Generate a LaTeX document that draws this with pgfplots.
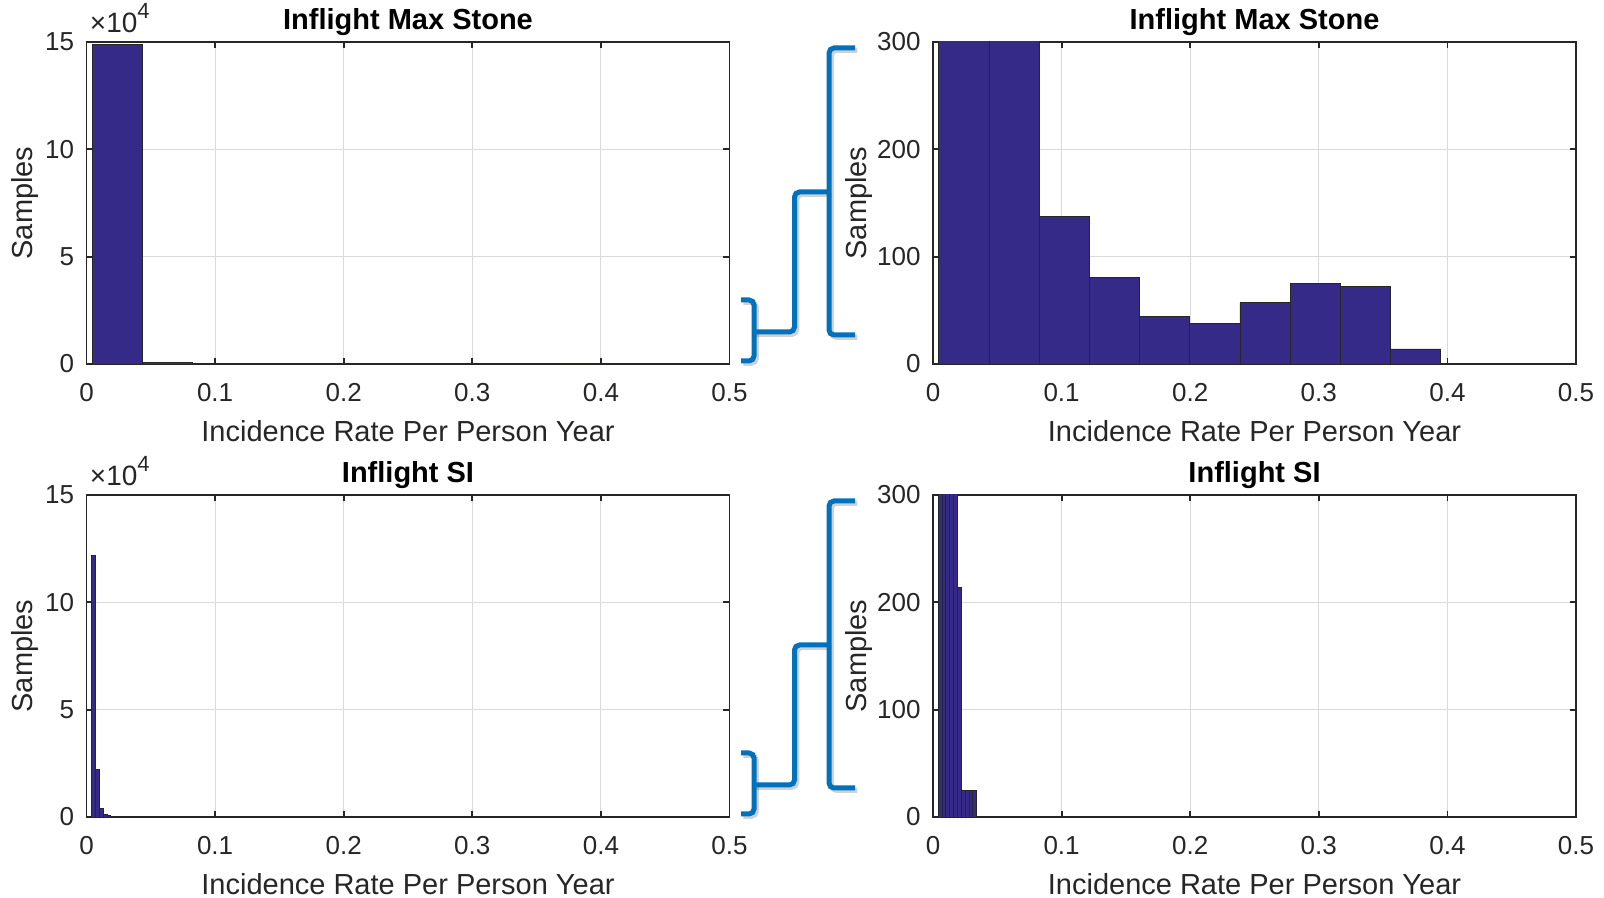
\documentclass[border=0pt]{standalone}
\usepackage{fontspec}
\setmainfont{Liberation Sans}
\usepackage{pgfplots}
\pgfplotsset{compat=1.18}

\definecolor{barfill}{RGB}{53,42,135}
\definecolor{axgray}{RGB}{38,38,38}
\definecolor{gridgray}{RGB}{218,218,218}
\definecolor{bracecol}{RGB}{0,114,189}

% Histogram bins: left edge, count (last row closes the final bin)
\pgfplotstableread{
x       y
0.0044  149060
0.0435  560
0.0825  137
0.1216  81
0.1606  44
0.1997  38
0.2387  57
0.2778  75
0.3168  72
0.3559  14
0.3949  14
}\stonebins

\pgfplotstableread{
x       y
0.0040  121700
0.0070  22350
0.0100  4150
0.0130  1300
0.0160  500
0.0190  214
0.0220  25
0.0250  25
0.0280  25
0.0310  25
0.0340  25
}\sibins

\pgfplotsset{
  every axis title shift=0pt,
  hist/.style={
    width=321.5pt, height=161pt, scale only axis,
    xmin=0, xmax=0.5,
    xtick={0,0.1,0.2,0.3,0.4,0.5},
    xticklabels={0,0.1,0.2,0.3,0.4,0.5},
    scaled x ticks=false, scaled y ticks=false,
    tick align=inside,
    major tick length=3.2pt,
    grid=major,
    major grid style={gridgray, line width=0.5pt},
    axis line style={axgray, line width=0.9pt},
    every tick/.style={axgray, line width=0.9pt},
    tick label style={font=\fontsize{13}{15}\selectfont, text=axgray},
    xticklabel style={anchor=center, yshift=-14.5pt},
    yticklabel style={anchor=east, inner sep=0pt, xshift=-6pt},
    xlabel={Incidence Rate Per Person Year},
    ylabel={Samples},
    label style={font=\fontsize{14.5}{17}\selectfont, text=axgray},
    xlabel style={at={([yshift=-33.5pt]axis description cs:0.5,0)}, anchor=center},
    title style={font=\bfseries\fontsize{14.5}{17}\selectfont,
      at={([yshift=9.8pt]axis description cs:0.5,1)}, anchor=center},
    axis background/.style={fill=white},
  },
  full/.style={
    ymin=0, ymax=150000,
    ytick={0,50000,100000,150000},
    yticklabels={0,5,10,15},
    ylabel style={at={([xshift=-30.5pt]axis description cs:0,0.5)}, anchor=center},
    % exponent of the y tick labels, above the top-left corner
    extra description/.code={
      \node[anchor=base west, inner sep=0pt, text=axgray, font=\fontsize{14}{16}\selectfont]
        at ([xshift=1.5pt, yshift=4.5pt]0,1)
        {×10\raisebox{0.5em}{\fontsize{11}{13}\selectfont 4}};
    },
  },
  zoomed/.style={
    ymin=0, ymax=300,
    restrict y to domain*=0:320,
    ytick={0,100,200,300},
    yticklabels={0,100,200,300},
    ylabel style={at={([xshift=-37.25pt]axis description cs:0,0.5)}, anchor=center},
  },
  bars/.style={ybar interval, fill=barfill, draw=axgray, line width=0.45pt},
}

% Bracket linking a full-range panel to its zoomed copy
\newcommand{\linkbracket}{%
  \begin{scope}[line width=2.5pt, rounded corners=2.5pt]
    \begin{scope}[xshift=1.2pt, yshift=-1.2pt, draw=black, opacity=0.18]
      \draw (370.5pt,299pt) -- (377pt,299pt) -- (377pt,268.5pt) -- (370.5pt,268.5pt);
      \draw (377pt,283pt) -- (397.25pt,283pt) -- (397.25pt,353pt) -- (414.5pt,353pt);
      \draw (427.5pt,425pt) -- (414.5pt,425pt) -- (414.5pt,281.5pt) -- (427.5pt,281.5pt);
    \end{scope}
    \draw[bracecol] (370.5pt,299pt) -- (377pt,299pt) -- (377pt,268.5pt) -- (370.5pt,268.5pt);
    \draw[bracecol] (377pt,283pt) -- (397.25pt,283pt) -- (397.25pt,353pt) -- (414.5pt,353pt);
    \draw[bracecol] (427.5pt,425pt) -- (414.5pt,425pt) -- (414.5pt,281.5pt) -- (427.5pt,281.5pt);
  \end{scope}}

\begin{document}
\begin{tikzpicture}
\path[use as bounding box] (0,0) rectangle (802pt,449pt);

% Top row: Inflight Max Stone
\begin{axis}[hist, full, at={(43.25pt,267pt)}, anchor=south west,
  title={Inflight Max Stone}]
  \addplot[bars] table[x=x, y=y] {\stonebins};
\end{axis}
\begin{axis}[hist, zoomed, at={(466.5pt,267pt)}, anchor=south west,
  title={Inflight Max Stone}]
  \addplot[bars] table[x=x, y=y] {\stonebins};
\end{axis}

% Bottom row: Inflight SI
\begin{axis}[hist, full, at={(43.25pt,40.5pt)}, anchor=south west,
  title={Inflight SI}]
  \addplot[bars] table[x=x, y=y] {\sibins};
\end{axis}
\begin{axis}[hist, zoomed, at={(466.5pt,40.5pt)}, anchor=south west,
  title={Inflight SI}]
  \addplot[bars] table[x=x, y=y] {\sibins};
\end{axis}

\linkbracket
\begin{scope}[yshift=-226.5pt]
  \linkbracket
\end{scope}
\end{tikzpicture}
\end{document}
